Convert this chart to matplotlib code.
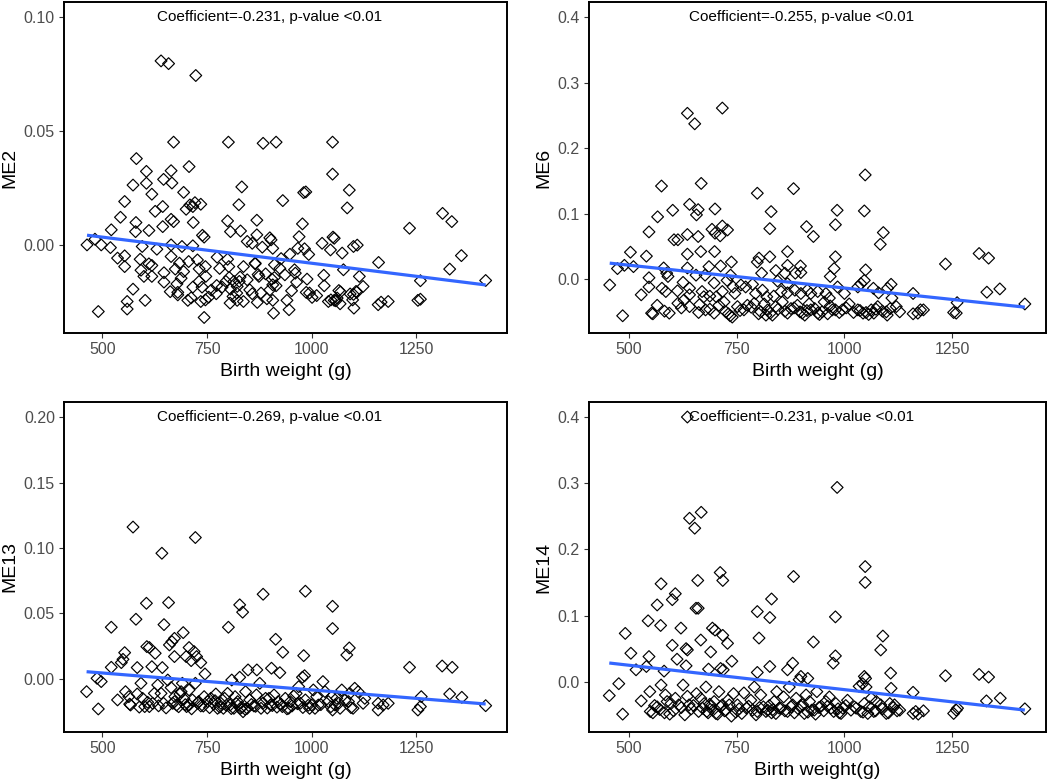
import numpy as np
import matplotlib
matplotlib.use("Agg")
import matplotlib.pyplot as plt
from matplotlib.ticker import FormatStrFormatter

plt.rcParams['font.family'] = ['Liberation Sans', 'DejaVu Sans']

# ---------------- data ----------------
bw_me2 = [640, 658, 723, 670, 801, 884, 915, 1050, 581, 605,
          664, 707, 1050, 646, 573, 666, 605, 833, 694, 618,
          981, 986, 1090, 553, 721, 735, 709, 716, 700, 644,
          826, 931, 1085, 543, 626, 664, 670, 717, 580, 799,
          869, 978, 1313, 1335, 1234, 521, 579, 611, 644, 806,
          830, 739, 743, 869, 900, 903, 970, 1051, 1054, 482,
          463, 497, 519, 595, 630, 664, 690, 716, 846, 858,
          882, 907, 967, 983, 993, 1025, 1045, 1073, 1100, 1109,
          1358, 536, 553, 590, 664, 706, 684, 727, 774, 799,
          865, 927, 948, 553, 611, 618, 674, 694, 731, 746,
          780, 802, 837, 865, 911, 924, 959, 1076, 1160, 1330,
          592, 599, 647, 618, 688, 747, 803, 829, 872, 890,
          911, 936, 961, 989, 1029, 1114, 647, 678, 731, 795,
          814, 827, 846, 874, 905, 964, 1260, 1416, 573, 716,
          738, 773, 786, 806, 822, 852, 907, 915, 1030, 1065,
          1123, 1106, 680, 680, 772, 821, 879, 900, 987, 995,
          1100, 1108, 1069, 559, 602, 704, 735, 746, 754, 805,
          822, 837, 870, 907, 941, 1001, 1040, 1046, 1054, 1061,
          1068, 1098, 1159, 1166, 1183, 1254, 1260, 490, 559, 743,
          909, 946, 1101,
          662, 712, 760, 812, 858, 893, 952, 1012, 1058, 1092]
me2 = [0.0806, 0.0794, 0.0742, 0.045, 0.045, 0.0445, 0.045, 0.045, 0.0378, 0.0322,
       0.0325, 0.0343, 0.031, 0.0287, 0.0262, 0.0271, 0.027, 0.0254, 0.023, 0.0222,
       0.0229, 0.0232, 0.024, 0.019, 0.0185, 0.0178, 0.0175, 0.0168, 0.0156, 0.0168,
       0.0176, 0.0194, 0.0162, 0.0121, 0.0147, 0.0112, 0.0102, 0.0098, 0.0098, 0.0105,
       0.0108, 0.0092, 0.0138, 0.0102, 0.0073, 0.0066, 0.0058, 0.0063, 0.008, 0.0058,
       0.0061, 0.0042, 0.0034, 0.0044, 0.0031, 0.0022, 0.0036, 0.0034, 0.0029, 0.0025,
       0.0, 0.0, -0.0012, -0.0007, -0.0019, 0.0, -0.0007, -0.0004, 0.0015, 0.0007,
       -0.001, -0.0015, -0.0015, -0.0017, -0.0042, 0.0007, -0.0022, -0.0036, -0.0007, -0.0001,
       -0.0047, -0.0058, -0.0048, -0.0063, -0.0051, -0.0073, -0.008, -0.0066, -0.0054, -0.0063,
       -0.008, -0.006, -0.0041, -0.0095, -0.0083, -0.009, -0.0106, -0.0117, -0.0105, -0.0095,
       -0.0103, -0.0095, -0.0095, -0.0083, -0.0087, -0.0103, -0.0109, -0.0109, -0.0077, -0.0106,
       -0.0111, -0.0138, -0.0122, -0.0138, -0.0146, -0.0138, -0.0143, -0.0141, -0.013, -0.0127,
       -0.0143, -0.0131, -0.0124, -0.015, -0.0133, -0.0138, -0.0163, -0.0171, -0.016, -0.016,
       -0.016, -0.016, -0.0153, -0.0138, -0.015, -0.0163, -0.0157, -0.0156, -0.0194, -0.0185,
       -0.0185, -0.0178, -0.0185, -0.0194, -0.0182, -0.0197, -0.0175, -0.0179, -0.0179, -0.02,
       -0.0182, -0.0204, -0.0208, -0.0219, -0.0214, -0.0211, -0.0211, -0.0197, -0.0208, -0.0211,
       -0.0217, -0.0207, -0.0206, -0.0248, -0.0243, -0.0243, -0.0248, -0.0241, -0.0229, -0.0255,
       -0.0243, -0.0248, -0.0252, -0.0243, -0.0243, -0.023, -0.0248, -0.0241, -0.0243, -0.0233,
       -0.0258, -0.0241, -0.0262, -0.0251, -0.0248, -0.0243, -0.0238, -0.0292, -0.0281, -0.0318,
       -0.0299, -0.0284, -0.0277,
       -0.0205, -0.0232, -0.0198, -0.0226, -0.0214, -0.0236, -0.0201, -0.0222, -0.0245, -0.0215]

bw_me6 = [717, 636, 653, 1048, 576, 668, 882, 798, 641, 661,
          657, 602, 700, 830, 983, 1046, 567, 979, 912, 827,
          717, 693, 700, 729, 712, 928, 1090, 1083, 547, 605,
          614, 636, 661, 699, 667, 504, 541, 636, 868, 827,
          979, 1312, 1334, 1234, 738, 798, 802, 686, 713, 636,
          581, 474, 490, 511, 898, 868, 976, 1049, 841, 808,
          862, 886, 899, 967, 588, 591, 656, 677, 736, 547,
          626, 698, 728, 760, 787, 845, 868, 456, 547, 529,
          577, 586, 613, 641, 641, 670, 688, 703, 717, 742,
          746, 771, 794, 810, 820, 836, 853, 868, 885, 899,
          914, 922, 938, 957, 965, 984, 1000, 1031, 1038, 1046,
          1067, 1079, 1100, 1108, 1110, 1159, 1330, 1360, 1261, 1418,
          486, 553, 556, 566, 594, 614, 628, 641, 664, 674,
          678, 698, 709, 721, 725, 735, 740, 752, 767, 775,
          791, 801, 814, 822, 828, 833, 841, 856, 868, 876,
          891, 897, 908, 918, 922, 938, 942, 953, 967, 972,
          988, 995, 1011, 1031, 1043, 1050, 1062, 1068, 1077, 1097,
          1099, 1120, 1159, 1170, 1183, 1253, 1259,
          583, 622, 662, 688, 731, 758, 784, 806, 818, 846,
          862, 883, 902, 913, 931, 948, 961, 979, 1004, 1021,
          1036, 1056, 1073, 1088, 1106, 1128, 1176]
me6 = [0.261, 0.253, 0.237, 0.159, 0.142, 0.146, 0.138, 0.131, 0.114, 0.106,
       0.098, 0.105, 0.107, 0.103, 0.105, 0.104, 0.095, 0.083, 0.080, 0.077,
       0.081, 0.076, 0.070, 0.075, 0.066, 0.065, 0.071, 0.053, 0.072, 0.060,
       0.060, 0.068, 0.065, 0.042, 0.042, 0.041, 0.035, 0.038, 0.042, 0.034,
       0.034, 0.039, 0.032, 0.023, 0.026, 0.026, 0.032, 0.019, 0.020, 0.017,
       0.017, 0.016, 0.021, 0.019, 0.020, 0.021, 0.016, 0.014, 0.013, 0.009,
       0.009, 0.009, 0.010, 0.004, 0.009, 0.004, 0.006, 0.006, 0.006, 0.002,
       -0.005, -0.006, -0.002, -0.009, -0.008, -0.003, -0.007, -0.009, -0.012, -0.024,
       -0.014, -0.019, -0.018, -0.014, -0.024, -0.019, -0.026, -0.027, -0.019, -0.012,
       -0.022, -0.012, -0.022, -0.017, -0.027, -0.026, -0.019, -0.021, -0.017, -0.022,
       -0.017, -0.022, -0.019, -0.022, -0.029, -0.012, -0.022, -0.012, -0.007, -0.002,
       -0.014, -0.021, -0.014, -0.008, -0.029, -0.022, -0.020, -0.015, -0.036, -0.038,
       -0.056, -0.052, -0.053, -0.040, -0.052, -0.037, -0.032, -0.042, -0.039, -0.027,
       -0.047, -0.052, -0.040, -0.035, -0.050, -0.056, -0.058, -0.042, -0.047, -0.040,
       -0.037, -0.053, -0.038, -0.047, -0.052, -0.055, -0.042, -0.035, -0.052, -0.045,
       -0.040, -0.050, -0.055, -0.038, -0.047, -0.052, -0.054, -0.035, -0.041, -0.047,
       -0.051, -0.047, -0.038, -0.047, -0.052, -0.051, -0.047, -0.052, -0.042, -0.050,
       -0.055, -0.042, -0.053, -0.052, -0.047, -0.051, -0.052,
       -0.049, -0.044, -0.051, -0.046, -0.053, -0.048, -0.043, -0.050, -0.055, -0.046,
       -0.049, -0.044, -0.052, -0.048, -0.045, -0.050, -0.053, -0.047, -0.044, -0.051,
       -0.048, -0.054, -0.046, -0.049, -0.045, -0.050, -0.047]

bw_me13 = [573, 722, 642, 985, 884, 605, 658, 828, 835, 1050,
           580, 521, 647, 801, 1050, 693, 672, 666, 660, 914,
           931, 1090, 1084, 981, 606, 612, 626, 553, 545, 549,
           707, 719, 725, 700, 712, 735, 672, 618, 583, 521,
           643, 745, 848, 869, 904, 924, 978, 983, 1234, 1312,
           1336, 487, 497, 462, 490, 536, 555, 563, 567, 583,
           592, 596, 601, 620, 632, 640, 646, 656, 664, 673,
           677, 685, 691, 695, 701, 707, 715, 722, 730, 735,
           743, 751, 759, 771, 775, 783, 792, 799, 805, 809,
           814, 823, 828, 830, 836, 842, 852, 862, 868, 876,
           879, 890, 902, 910, 920, 930, 937, 945, 957, 969,
           973, 985, 995, 1000, 1012, 1027, 1032, 1040, 1048, 1050,
           1056, 1068, 1072, 1080, 1091, 1099, 1103, 1111, 1123, 1159,
           1159, 1171, 1183, 1254, 1260, 1262, 1330, 1359, 1416, 769,
           789, 817, 846, 898, 949, 963, 1004, 1016, 1060, 1088,
           1127, 672, 688, 707, 624, 612,
           565, 588, 608, 634, 652, 668, 682, 698, 713, 728,
           741, 756, 766, 780, 796, 808, 820, 833, 841, 856,
           866, 884, 894, 906, 917, 927, 941, 953, 966, 979,
           992, 1008, 1022, 1046, 1065, 1094]
me13 = [0.116, 0.108, 0.096, 0.067, 0.0647, 0.0578, 0.0583, 0.0566, 0.051, 0.0555,
        0.0456, 0.0395, 0.0415, 0.0395, 0.0385, 0.0354, 0.031, 0.0285, 0.026, 0.0303,
        0.0204, 0.0237, 0.0183, 0.0178, 0.0247, 0.024, 0.0196, 0.0201, 0.0125, 0.015,
        0.024, 0.0209, 0.0171, 0.0171, 0.014, 0.0125, 0.0171, 0.0094, 0.0087, 0.0089,
        0.0087, 0.0038, 0.0069, 0.0069, 0.0082, 0.0048, 0.0013, 0.0025, 0.0089, 0.0099,
        0.0089, 0.0005, -0.002, -0.0097, -0.0229, -0.016, -0.0097, -0.0135, -0.0199, -0.0115,
        -0.0033, -0.0148, -0.0211, -0.0186, -0.0046, -0.011, -0.0186, -0.0008, -0.0066, -0.0135,
        -0.0199, -0.0115, -0.0033, -0.0153, -0.0211, -0.0084, -0.016, -0.0033, -0.0173, -0.0206,
        -0.0135, -0.0173, -0.0148, -0.0115, -0.0224, -0.0186, -0.0148, -0.011, -0.0199, -0.0008,
        -0.0224, -0.0173, 0.0013, -0.0224, -0.025, -0.0097, -0.016, -0.0206, -0.0122, -0.0033,
        -0.0224, -0.0148, -0.0199, -0.0122, -0.0173, -0.0211, -0.0148, -0.0224, -0.013, -0.0059,
        -0.0186, -0.016, -0.0224, -0.0199, -0.0135, -0.002, -0.0097, -0.0173, -0.0135, -0.0237,
        -0.0199, -0.0224, -0.0084, -0.016, -0.011, -0.0224, -0.0071, -0.0097, -0.0186, -0.0186,
        -0.0237, -0.0199, -0.0186, -0.0237, -0.0211, -0.0135, -0.0115, -0.014, -0.0204, -0.0166,
        -0.0224, -0.0135, -0.0224, -0.0148, -0.0173, -0.011, -0.0084, -0.0199, -0.0148, -0.0173,
        -0.0148, -0.0173, -0.0097, -0.0199, -0.011, -0.0211,
        -0.0192, -0.0215, -0.0178, -0.0205, -0.0221, -0.0186, -0.0212, -0.0196, -0.0228, -0.0183,
        -0.0207, -0.0219, -0.0191, -0.0214, -0.0202, -0.0226, -0.0188, -0.0217, -0.0231, -0.0195,
        -0.0209, -0.0184, -0.0222, -0.0203, -0.0215, -0.0193, -0.0228, -0.0206, -0.0189, -0.0218,
        -0.0201, -0.0224, -0.0196, -0.0212, -0.0185, -0.0219]

bw_me14 = [636, 983, 668, 641, 653, 1048, 1048, 712, 718, 660,
           882, 575, 608, 601, 831, 656, 661, 566, 798, 827,
           979, 545, 574, 492, 621, 694, 700, 718, 729, 667,
           802, 928, 1089, 1084, 601, 633, 636, 505, 690, 547,
           979, 612, 739, 517, 541, 582, 633, 685, 713, 719,
           798, 827, 868, 880, 974, 1107, 1234, 1312, 1334, 1046,
           1049, 899, 915, 477, 455, 486, 529, 549, 550, 556,
           566, 575, 585, 589, 595, 608, 616, 626, 636, 640,
           657, 667, 675, 681, 679, 690, 698, 702, 709, 717,
           725, 730, 738, 743, 752, 767, 773, 783, 791, 798,
           806, 812, 822, 831, 837, 843, 853, 859, 868, 872,
           880, 888, 895, 899, 907, 911, 919, 930, 936, 946,
           957, 965, 969, 980, 988, 996, 1007, 1023, 1034, 1038,
           1046, 1054, 1062, 1068, 1074, 1084, 1097, 1105, 1108, 1116,
           1122, 1159, 1159, 1171, 1183, 1253, 1259, 1262, 1329, 1361,
           1418, 1042, 1050,
           560, 572, 583, 598, 604, 622, 630, 645, 650, 662,
           671, 684, 688, 695, 706, 713, 722, 733, 748, 756,
           762, 778, 787, 795, 803, 818, 826, 834, 841, 849,
           862, 876, 884, 893, 903, 915, 924, 933, 941, 952,
           961, 975, 985, 992, 1003, 1015, 1027, 1043, 1058, 1072,
           1088, 1102, 1113, 1128, 1165]
me14 = [0.400, 0.2936, 0.256, 0.247, 0.232, 0.174, 0.150, 0.165, 0.153, 0.153,
        0.159, 0.148, 0.133, 0.124, 0.125, 0.111, 0.111, 0.116, 0.106, 0.097,
        0.098, 0.092, 0.085, 0.073, 0.081, 0.081, 0.078, 0.070, 0.058, 0.063,
        0.066, 0.060, 0.069, 0.048, 0.055, 0.050, 0.048, 0.043, 0.045, 0.038,
        0.039, 0.034, 0.031, 0.018, 0.023, 0.016, 0.024, 0.019, 0.020, 0.018,
        0.014, 0.023, 0.018, 0.028, 0.028, 0.013, 0.009, 0.011, 0.007, 0.008,
        0.005, 0.008, 0.005, -0.003, -0.021, -0.049, -0.029, -0.015, -0.045, -0.047,
        -0.038, -0.005, -0.020, -0.030, -0.049, -0.025, -0.035, -0.005, -0.022, -0.035,
        -0.018, -0.025, -0.033, -0.045, -0.008, -0.037, -0.030, -0.048, -0.015, -0.035,
        -0.043, -0.028, -0.052, -0.018, -0.035, -0.017, -0.040, -0.028, -0.008, -0.045,
        -0.020, -0.038, -0.043, -0.047, -0.030, -0.015, -0.040, -0.023, -0.045, -0.008,
        -0.035, -0.025, 0.003, -0.037, -0.048, -0.020, -0.030, -0.043, -0.015, -0.037,
        -0.030, -0.023, -0.040, -0.033, -0.047, -0.040, -0.028, -0.038, -0.007, -0.045,
        -0.033, -0.048, -0.025, -0.045, -0.030, -0.035, -0.048, -0.033, -0.010, -0.035,
        -0.044, -0.016, -0.048, -0.049, -0.044, -0.048, -0.043, -0.040, -0.029, -0.025,
        -0.041, -0.003, -0.008,
        -0.036, -0.042, -0.047, -0.033, -0.044, -0.039, -0.050, -0.041, -0.036, -0.045,
        -0.040, -0.047, -0.034, -0.043, -0.049, -0.038, -0.044, -0.035, -0.046, -0.041,
        -0.048, -0.037, -0.043, -0.050, -0.039, -0.045, -0.036, -0.042, -0.048, -0.040,
        -0.044, -0.038, -0.047, -0.041, -0.035, -0.046, -0.043, -0.049, -0.039, -0.044,
        -0.037, -0.045, -0.041, -0.048, -0.036, -0.043, -0.040, -0.046, -0.038, -0.044,
        -0.041, -0.047, -0.039, -0.043, -0.045]

coefficients = ['-0.231', '-0.255', '-0.269', '-0.231']
module_names = ['ME2', 'ME6', 'ME13', 'ME14']
x_labels = ['Birth weight (g)', 'Birth weight (g)', 'Birth weight (g)', 'Birth weight(g)']
x_ticks = [500, 750, 1000, 1250]
y_ticks = [[0.00, 0.05, 0.10], [0.0, 0.1, 0.2, 0.3, 0.4],
           [0.00, 0.05, 0.10, 0.15, 0.20], [0.0, 0.1, 0.2, 0.3, 0.4]]
y_fmt = ['%.2f', '%.1f', '%.2f', '%.1f']
text_y = [0.10, 0.4, 0.20, 0.4]
text_x = 900

# ---------------- layout ----------------
W, H = 1050, 783
fig = plt.figure(figsize=(W / 100, H / 100), dpi=100)


def rect(x0, y0, x1, y1):
    return [x0 / W, 1 - y1 / H, (x1 - x0) / W, (y1 - y0) / H]


rects = [rect(64, 2, 507, 333), rect(589, 2, 1046, 333),
         rect(64, 402, 507, 732), rect(589, 402, 1046, 732)]
ylims = [(-0.0386, 0.1064), (-0.0823, 0.4229), (-0.0405, 0.2115), (-0.076, 0.4227)]
xlim = (408, 1467)

xs = [bw_me2, bw_me6, bw_me13, bw_me14]
ys = [me2, me6, me13, me14]

for i in range(4):
    ax = fig.add_axes(rects[i])
    x = np.array(xs[i], dtype=float)
    y = np.array(ys[i], dtype=float)
    ax.scatter(x, y, marker='D', s=36, facecolors='none', edgecolors='black',
               linewidths=0.85, zorder=3)
    slope, intercept = np.polyfit(x, y, 1)
    xx = np.array([x.min(), x.max()])
    ax.plot(xx, intercept + slope * xx, color='#3366FF', lw=2.3, zorder=4,
            solid_capstyle='butt')
    ax.text(text_x, text_y[i], f'Coefficient={coefficients[i]}, p-value <0.01',
            ha='center', va='center', fontsize=11, color='black', zorder=5)
    ax.set_xlim(*xlim)
    ax.set_ylim(*ylims[i])
    ax.set_xticks(x_ticks)
    ax.set_yticks(y_ticks[i])
    ax.yaxis.set_major_formatter(FormatStrFormatter(y_fmt[i]))
    ax.tick_params(axis='both', labelsize=11.5, labelcolor='#4D4D4D',
                   color='#333333', length=3.5, width=0.8, pad=3)
    for sp in ax.spines.values():
        sp.set_linewidth(1.4)
        sp.set_color('black')
    ax.set_xlabel(x_labels[i], fontsize=14, labelpad=4)
    ax.set_ylabel(module_names[i], fontsize=14, labelpad=4)

fig.savefig('out.png', dpi=100)
